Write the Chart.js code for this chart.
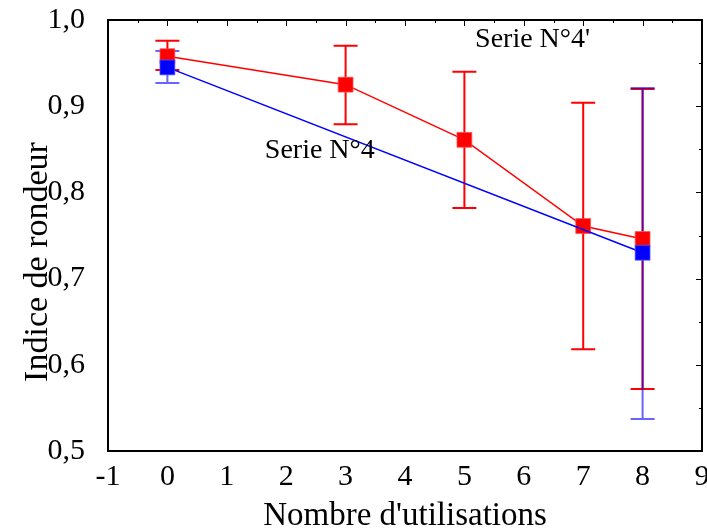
<!DOCTYPE html>
<html>
<head>
<meta charset="utf-8">
<script src="https://cdn.jsdelivr.net/npm/chart.js@4.4.0/dist/chart.umd.min.js"></script>
<style>
html, body { margin: 0; padding: 0; background: #fff; }
</style>
</head>
<body>
<canvas id="chart" width="707" height="529"></canvas>
<script>
// Serie N°4' (rouge)
const utilisationsRouge = [0, 3, 5, 7, 8];
const rondeurRouge = [0.958, 0.925, 0.861, 0.761, 0.746];
const hautRouge = [0.976, 0.970, 0.940, 0.904, 0.920];
const basRouge = [0.942, 0.879, 0.782, 0.618, 0.572];

// Serie N°4 (bleu)
const utilisationsBleu = [0, 8];
const rondeurBleu = [0.945, 0.730];
const hautBleu = [0.964, 0.921];
const basBleu = [0.927, 0.537];

// Etiquettes des series (coordonnees dans le repere des donnees)
const etiquettes = [
    { texte: "Serie N°4'", x: 5.18, y: 0.977 },
    { texte: 'Serie N°4', x: 1.64, y: 0.849 }
];

const titreY = 'Indice de rondeur';
const police = "'Liberation Serif', 'Times New Roman', serif";

// Points pour Chart.js
const pointsRouge = utilisationsRouge.map((x, i) => ({ x: x, y: rondeurRouge[i] }));
const pointsBleu = utilisationsBleu.map((x, i) => ({ x: x, y: rondeurBleu[i] }));

// Barres d'erreur, cadre, graduations internes et textes
const decorPlugin = {
    id: 'decor',
    beforeDatasetsDraw(chart) {
        const ctx = chart.ctx;
        const sx = chart.scales.x, sy = chart.scales.y;
        const barres = [
            { xs: utilisationsRouge, haut: hautRouge, bas: basRouge, couleur: '#ff0000' },
            { xs: utilisationsBleu, haut: hautBleu, bas: basBleu, couleur: 'rgba(0,0,255,0.6)' }
        ];
        ctx.save();
        ctx.lineWidth = 2;
        barres.forEach(b => {
            ctx.strokeStyle = b.couleur;
            b.xs.forEach((v, i) => {
                const px = sx.getPixelForValue(v);
                const yh = sy.getPixelForValue(b.haut[i]);
                const yb = sy.getPixelForValue(b.bas[i]);
                ctx.beginPath();
                ctx.moveTo(px, yh); ctx.lineTo(px, yb);
                ctx.moveTo(px - 12, yh); ctx.lineTo(px + 12, yh);
                ctx.moveTo(px - 12, yb); ctx.lineTo(px + 12, yb);
                ctx.stroke();
            });
        });
        ctx.restore();
    },
    afterDraw(chart) {
        const ctx = chart.ctx;
        const a = chart.chartArea;
        const sx = chart.scales.x, sy = chart.scales.y;
        ctx.save();
        ctx.strokeStyle = '#000';
        ctx.lineWidth = 2;
        ctx.strokeRect(a.left, a.top, a.right - a.left, a.bottom - a.top);
        ctx.lineWidth = 1;
        ctx.beginPath();
        for (let v = -0.5; v < 9; v += 0.5) {
            const px = Math.round(sx.getPixelForValue(v)) + 0.5;
            const l = Number.isInteger(v) ? 6 : 3;
            ctx.moveTo(px, a.top); ctx.lineTo(px, a.top + l);
        }
        for (let k = 1; k < 10; k++) {
            const v = 0.5 + k * 0.05;
            const py = Math.round(sy.getPixelForValue(v)) + 0.5;
            const l = k % 2 === 0 ? 6 : 3;
            ctx.moveTo(a.right, py); ctx.lineTo(a.right - l, py);
        }
        ctx.stroke();

        ctx.fillStyle = '#000';
        ctx.font = '28px ' + police;
        ctx.textBaseline = 'middle';
        ctx.textAlign = 'left';
        etiquettes.forEach(e => {
            ctx.fillText(e.texte, sx.getPixelForValue(e.x), sy.getPixelForValue(e.y));
        });

        // titre de l'axe vertical, un peu sous le milieu comme dans l'original
        ctx.font = '34px ' + police;
        ctx.textAlign = 'center';
        ctx.translate(38, 262);
        ctx.rotate(-Math.PI / 2);
        ctx.fillText(titreY, 0, 0);
        ctx.restore();
    }
};

const ctx = document.getElementById('chart').getContext('2d');
const chart = new Chart(ctx, {
    type: 'scatter',
    data: {
        datasets: [{
            label: 'Serie N°4',
            data: pointsBleu,
            showLine: true,
            borderColor: '#0000ff',
            borderWidth: 1.5,
            backgroundColor: '#0000ff',
            pointStyle: 'rect',
            pointRadius: 10.5,
            pointBorderWidth: 1,
            pointBorderColor: 'rgba(80,80,255,0.8)',
            pointBackgroundColor: '#0000ff'
        }, {
            label: "Serie N°4'",
            data: pointsRouge,
            showLine: true,
            borderColor: '#ff0000',
            borderWidth: 1.5,
            backgroundColor: '#ff0000',
            pointStyle: 'rect',
            pointRadius: 10.5,
            pointBorderWidth: 1,
            pointBorderColor: 'rgba(255,80,80,0.8)',
            pointBackgroundColor: '#ff0000'
        }]
    },
    options: {
        responsive: false,
        animation: false,
        layout: { autoPadding: false, padding: { top: 20, right: 5, left: 0, bottom: 0 } },
        plugins: {
            legend: { display: false },
            tooltip: { enabled: false }
        },
        scales: {
            x: {
                type: 'linear',
                min: -1,
                max: 9,
                afterFit: s => {
                    s.height = 78;
                    s.paddingLeft = 0;
                    s.paddingRight = 0;
                },
                grid: { display: false, drawTicks: false },
                border: { display: false },
                ticks: {
                    stepSize: 1,
                    padding: 8,
                    color: '#000',
                    font: { family: police, size: 30 }
                },
                title: {
                    display: true,
                    text: "Nombre d'utilisations",
                    color: '#000',
                    font: { family: police, size: 33 },
                    padding: { top: 0, bottom: -7 }
                }
            },
            y: {
                min: 0.5,
                max: 1.0,
                afterFit: s => {
                    s.width = 108;
                    s.paddingTop = 0;
                    s.paddingBottom = 0;
                },
                grid: { display: false, drawTicks: false },
                border: { display: false },
                ticks: {
                    stepSize: 0.1,
                    padding: 23,
                    color: '#000',
                    font: { family: police, size: 30 },
                    callback: v => v.toFixed(1).replace('.', ',')
                },
                title: { display: false }
            }
        }
    },
    plugins: [decorPlugin]
});
</script>
</body>
</html>
